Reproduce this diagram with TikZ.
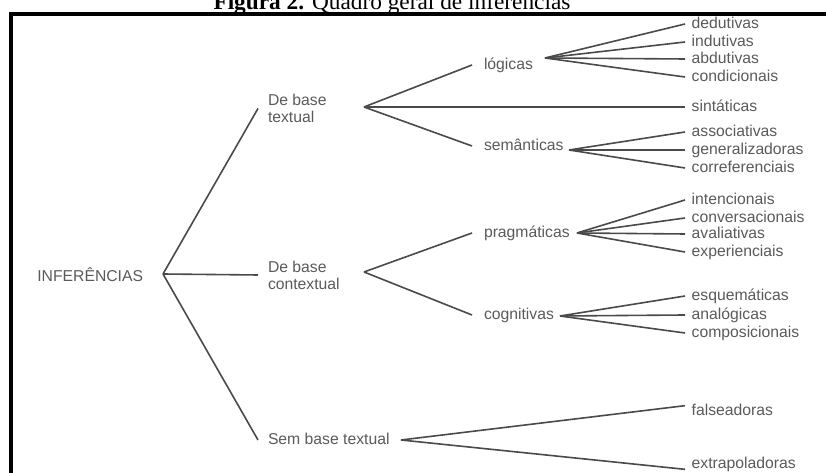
\documentclass[tikz,border=0pt]{standalone}
\usepackage{fontspec}
\setmainfont{Liberation Sans}
\newfontfamily\titlefont{Liberation Serif}

\definecolor{txtgray}{HTML}{5A5A5A}
\definecolor{lngray}{HTML}{4A4A4A}

\tikzset{every picture/.style={line width=0.75pt}}
\tikzset{
	lbl/.style={anchor=west, inner sep=1pt, text=txtgray, font=\fontsize{11.8}{12.75}\selectfont, text height=8.4pt, text depth=2.3pt},
	midlbl/.style={anchor=west, inner sep=1pt, outer sep=6.5pt, align=left, text=txtgray, font=\fontsize{11.8}{12.75}\selectfont},
	catlbl/.style={lbl, outer sep=8pt},
	leaflbl/.style={lbl, outer sep=4pt},
	branch/.style={draw=lngray, line width=1.2pt},
}

\begin{document}
\begin{tikzpicture}[x=0.75pt,y=0.75pt,yscale=-1,xscale=1]
	\useasboundingbox (0,0) rectangle (826,473);

	% Title (cut at the top, as in the source)
	\node[anchor=base, inner sep=0pt, font=\titlefont\fontsize{17.5}{18}\selectfont] (title) at (392,10) {\textbf{Figura 2.} Quadro geral de inferências};
	% Frame
	\draw [line width=3pt] (826,14) -- (11,14) -- (11,473);

	% Text Node
	\node[lbl] (inf) at (35.5,277) {INFERÊNCIAS};
	% Text Node
	\node[midlbl] (txt) at (258,108.5) {De base\\textual};
	\node[midlbl] (ctx) at (258,275) {De base\\contextual};
	\node[midlbl, text height=8.4pt, text depth=2.3pt] (sem) at (258,440) {Sem base textual};
	% Text Node
	\node[catlbl] (log) at (472,65) {lógicas};
	\node[catlbl] (smn) at (472,146) {semânticas};
	\node[catlbl] (prg) at (472,233) {pragmáticas};
	\node[catlbl] (cog) at (472,315) {cognitivas};
	% Text Node
	\node[leaflbl] (ded) at (685,24) {dedutivas};
	\node[leaflbl] (ind) at (685,42) {indutivas};
	\node[leaflbl] (abd) at (685,59) {abdutivas};
	\node[leaflbl] (con) at (685,77) {condicionais};
	\node[leaflbl] (sin) at (685,107) {sintáticas};
	\node[leaflbl] (ass) at (685,132) {associativas};
	\node[leaflbl] (gen) at (685,150) {generalizadoras};
	\node[leaflbl] (cor) at (685,168) {correferenciais};
	\node[leaflbl] (int) at (685,200) {intencionais};
	\node[leaflbl] (cvs) at (685,218) {conversacionais};
	\node[leaflbl] (ava) at (685,234) {avaliativas};
	\node[leaflbl] (exp) at (685,252) {experienciais};
	\node[leaflbl] (esq) at (685,296) {esquemáticas};
	\node[leaflbl] (ana) at (685,315) {analógicas};
	\node[leaflbl] (cmp) at (685,333) {composicionais};
	\node[leaflbl] (fal) at (685,411) {falseadoras};
	\node[leaflbl] (ext) at (685,464) {extrapoladoras};

	% Fork points
	\coordinate (infF) at (163,274);
	\coordinate (txtF) at (364,107);
	\coordinate (ctxF) at (364,272);
	\coordinate (semF) at (401,440);
	\coordinate (logF) at (545,58);
	\coordinate (smnF) at (569,150);
	\coordinate (prgF) at (577,233);
	\coordinate (cogF) at (560,316);

	%Straight Lines
	\draw [branch] (infF) -- (txt.west);
	\draw [branch] (infF) -- (ctx.west);
	\draw [branch] (infF) -- (sem.west);
	%Straight Lines
	\draw [branch] (txtF) -- (log.west);
	\draw [branch] (txtF) -- (sin.west);
	\draw [branch] (txtF) -- (smn.west);
	\draw [branch] (ctxF) -- (prg.west);
	\draw [branch] (ctxF) -- (cog.west);
	\draw [branch] (semF) -- ([yshift=-4pt]fal.west);
	\draw [branch] (semF) -- ([yshift=4pt]ext.west);
	%Straight Lines
	\draw [branch] (logF) -- (ded.west);
	\draw [branch] (logF) -- (ind.west);
	\draw [branch] (logF) -- (abd.west);
	\draw [branch] (logF) -- (con.west);
	\draw [branch] (smnF) -- (ass.west);
	\draw [branch] (smnF) -- (gen.west);
	\draw [branch] (smnF) -- (cor.west);
	\draw [branch] (prgF) -- (int.west);
	\draw [branch] (prgF) -- (cvs.west);
	\draw [branch] (prgF) -- (ava.west);
	\draw [branch] (prgF) -- (exp.west);
	\draw [branch] (cogF) -- (esq.west);
	\draw [branch] (cogF) -- (ana.west);
	\draw [branch] (cogF) -- (cmp.west);

\end{tikzpicture}
\end{document}
